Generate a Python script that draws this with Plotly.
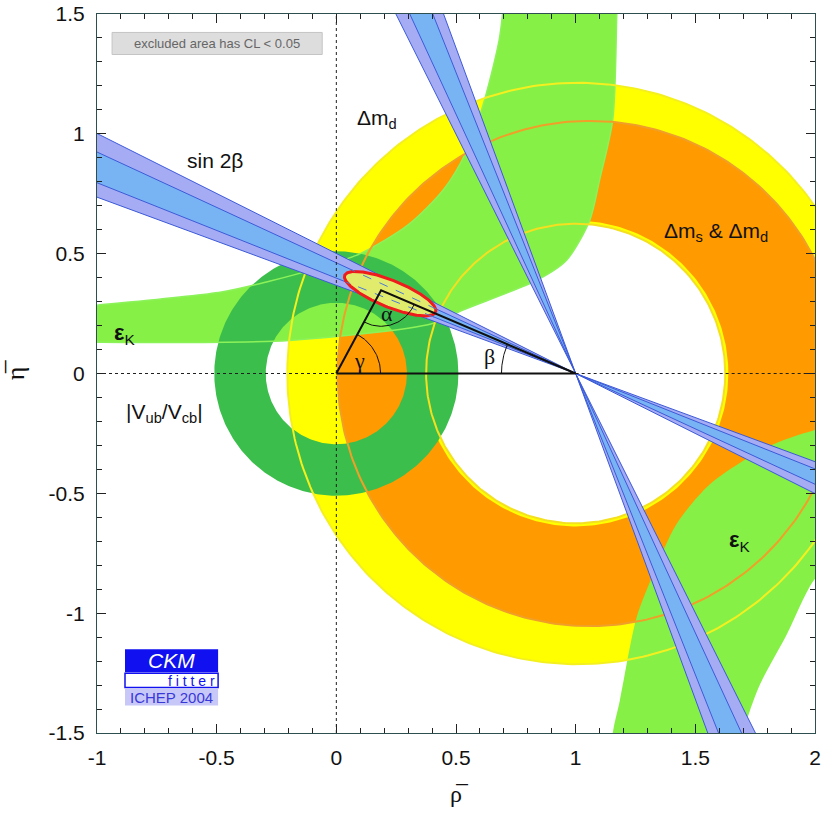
import numpy as np
import plotly.graph_objects as go

# ---------------- values ----------------
# Delta m_d band (yellow): outer / inner boundary circles (centre rho, radius)
dmd_centre = [1.008, 1.0]
dmd_radius = [1.213, 0.625]
# Delta m_s & Delta m_d band (orange)
dms_centre = [1.059, 1.0]
dms_radius = [1.054, 0.638]
# |Vub/Vcb| ring around the origin (outer, inner radius)
vub_radius = [0.51, 0.295]

# sin 2beta : angles (deg) of the band edges seen from (1,0)
beta_2sigma = [20.2, 26.6]
beta_1sigma = [21.7, 24.8]
beta_2sigma_alt = [63.4, 69.8]
beta_1sigma_alt = [65.2, 68.3]

# epsilon_K, upper branch: upper edge and lower edge
ek_up_hi_rho = [-1.10, -1.00, -0.48, -0.28, -0.06, 0.10, 0.30, 0.45, 0.54, 0.61, 0.68, 0.70, 0.72]
ek_up_hi_eta = [0.275, 0.285, 0.34, 0.385, 0.445, 0.50, 0.62, 0.77, 0.92, 1.11, 1.39, 1.55, 1.75]
ek_up_lo_rho = [1.18, 1.172, 1.155, 1.10, 1.059, 0.962, 0.837, 0.527, 0.402, -0.197, -1.00, -1.10]
ek_up_lo_eta = [1.75, 1.506, 1.059, 0.808, 0.640, 0.473, 0.389, 0.264, 0.209, 0.138, 0.130, 0.130]
# epsilon_K, lower branch: inner edge and outer edge
ek_lo_in_rho = [2.15, 1.993, 1.798, 1.561, 1.421, 1.324, 1.254, 1.184, 1.156, 1.14]
ek_lo_in_eta = [-0.21, -0.238, -0.308, -0.462, -0.629, -0.838, -1.020, -1.368, -1.494, -1.70]
ek_lo_out_rho = [1.66, 1.714, 1.770, 1.882, 1.993, 2.15]
ek_lo_out_eta = [-1.70, -1.452, -1.298, -1.089, -0.866, -0.70]

# global fit region (ellipse): centre, semi-axes, tilt (deg)
fit_centre = [0.225, 0.333]
fit_axes = [0.205, 0.056]
fit_tilt = [-22.0]

# unitarity triangle apex
apex = [0.187, 0.347]

x_tick_vals = [-1, -0.5, 0, 0.5, 1, 1.5, 2]
x_tick_text = ["-1", "-0.5", "0", "0.5", "1", "1.5", "2"]
y_tick_vals = [-1.5, -1, -0.5, 0, 0.5, 1, 1.5]
y_tick_text = ["-1.5", "-1", "-0.5", "0", "0.5", "1", "1.5"]

# ---------------- colours ----------------
YELLOW = "#ffff00"
ORANGE = "#ff9a00"
LGREEN = "#86f046"
DGREEN = "#3cbe4c"
BLUE2 = "#a6acf4"
BLUE1 = "#78b4f4"
BLUEL = "#3c5ad8"

T = np.linspace(0, 2 * np.pi, 361)


def ring(c_out, r_out, c_in, r_in):
    xo = c_out + r_out * np.cos(T)
    yo = r_out * np.sin(T)
    xi = c_in + r_in * np.cos(T[::-1])
    yi = r_in * np.sin(T[::-1])
    return list(xo) + [None] + list(xi), list(yo) + [None] + list(yi)


def circle(c, r):
    return list(c + r * np.cos(T)), list(r * np.sin(T))


def fill_trace(x, y, color, shape="linear"):
    return go.Scatter(x=x, y=y, mode="lines", fill="toself", fillcolor=color,
                      line=dict(width=0, shape=shape, smoothing=0.8),
                      hoverinfo="skip", showlegend=False)


def line_trace(x, y, color, width=1.0, dash="solid", shape="linear"):
    return go.Scatter(x=x, y=y, mode="lines",
                      line=dict(color=color, width=width, dash=dash, shape=shape, smoothing=0.8),
                      hoverinfo="skip", showlegend=False)


L = 5.0


def wedge(a1, a2):
    d1 = (np.cos(np.radians(a1)), np.sin(np.radians(a1)))
    d2 = (np.cos(np.radians(a2)), np.sin(np.radians(a2)))
    x = [1, 1 - L * d1[0], 1 - L * d2[0], 1, 1 + L * d2[0], 1 + L * d1[0], 1]
    y = [0, L * d1[1], L * d2[1], 0, -L * d2[1], -L * d1[1], 0]
    return x, y


def ray(a):
    d = (np.cos(np.radians(a)), np.sin(np.radians(a)))
    return [1 - L * d[0], 1 + L * d[0]], [L * d[1], -L * d[1]]


fig = go.Figure()

# Delta m_d (yellow) and Delta m_s & Delta m_d (orange)
fig.add_trace(fill_trace(*ring(dmd_centre[0], dmd_radius[0], dmd_centre[1], dmd_radius[1]), YELLOW))
fig.add_trace(fill_trace(*ring(dms_centre[0], dms_radius[0], dms_centre[1], dms_radius[1]), ORANGE))

# epsilon_K
fig.add_trace(fill_trace(ek_up_hi_rho + ek_up_lo_rho, ek_up_hi_eta + ek_up_lo_eta, LGREEN, "spline"))
fig.add_trace(fill_trace(ek_lo_in_rho + ek_lo_out_rho, ek_lo_in_eta + ek_lo_out_eta, LGREEN, "spline"))

# |Vub/Vcb|
fig.add_trace(fill_trace(*ring(0.0, vub_radius[0], 0.0, vub_radius[1]), DGREEN))

# contour lines over the green areas
fig.add_trace(line_trace(ek_up_hi_rho, ek_up_hi_eta, "#8cf25a", 1.5, shape="spline"))
fig.add_trace(line_trace(ek_up_lo_rho, ek_up_lo_eta, "#8cf25a", 1.5, shape="spline"))
fig.add_trace(line_trace(*circle(dmd_centre[0], dmd_radius[0]), "#f4f020", 2))
fig.add_trace(line_trace(*circle(dmd_centre[1], dmd_radius[1]), "#f4e020", 2))
fig.add_trace(line_trace(*circle(dms_centre[0], dms_radius[0]), "#f0a028", 2))

# sin 2beta
for a in (beta_2sigma, beta_2sigma_alt):
    fig.add_trace(fill_trace(*wedge(*a), BLUE2))
for a in (beta_1sigma, beta_1sigma_alt):
    fig.add_trace(fill_trace(*wedge(*a), BLUE1))
for a in beta_2sigma + beta_1sigma + beta_2sigma_alt + beta_1sigma_alt:
    fig.add_trace(line_trace(*ray(a), BLUEL, 1.0))

# global fit ellipse
tt = np.radians(fit_tilt[0])
ex = fit_axes[0] * np.cos(T)
ey = fit_axes[1] * np.sin(T)
fig.add_trace(go.Scatter(x=list(fit_centre[0] + ex * np.cos(tt) - ey * np.sin(tt)),
                         y=list(fit_centre[1] + ex * np.sin(tt) + ey * np.cos(tt)),
                         mode="lines", fill="toself", fillcolor="#e2ec6c",
                         line=dict(color="#ee1c1c", width=3), hoverinfo="skip", showlegend=False))
# sin2beta edges seen through the fit region (dashed)
for a in beta_1sigma:
    d = (np.cos(np.radians(a)), np.sin(np.radians(a)))
    fig.add_trace(line_trace([1 - 0.64 * d[0], 1 - 1.03 * d[0]], [0.64 * d[1], 1.03 * d[1]],
                             "#4a7ad8", 1, "dash"))

# dotted axes
fig.add_trace(line_trace([0, 0], [-1.5, 1.5], "#202020", 1, "dot"))
fig.add_trace(line_trace([-1, 0], [0, 0], "#202020", 1, "dot"))
fig.add_trace(line_trace([1, 2], [0, 0], "#202020", 1, "dot"))

# unitarity triangle
fig.add_trace(line_trace([0, apex[0], 1, 0], [0, apex[1], 0, 0], "#101010", 2))

g_ang = np.arctan2(apex[1], apex[0])
b_ang = np.arctan2(apex[1], 1 - apex[0])
tg = np.linspace(0, g_ang, 40)
fig.add_trace(line_trace(list(0.185 * np.cos(tg)), list(0.185 * np.sin(tg)), "#101010", 1))
tb = np.linspace(np.pi - b_ang, np.pi, 40)
fig.add_trace(line_trace(list(1 + 0.31 * np.cos(tb)), list(0.31 * np.sin(tb)), "#101010", 1))
ta = np.linspace(np.pi + g_ang, 2 * np.pi - b_ang, 40)
fig.add_trace(line_trace(list(apex[0] + 0.15 * np.cos(ta)), list(apex[1] + 0.15 * np.sin(ta)), "#101010", 1))

# ---------------- labels ----------------
SANS = "Liberation Sans, Arial, sans-serif"
SERIF = "Liberation Serif, Times New Roman, serif"
ann = [
    dict(x=0.17, y=1.06, text="Δm<sub>d</sub>", size=21, font=SANS),
    dict(x=-0.506, y=0.89, text="sin 2β", size=21, font=SANS),
    dict(x=1.586, y=0.59, text="Δm<sub>s</sub> & Δm<sub>d</sub>", size=21, font=SANS),
    dict(x=-0.885, y=0.165, text="<b>ε</b><sub>K</sub>", size=22, font=SANS),
    dict(x=1.686, y=-0.70, text="<b>ε</b><sub>K</sub>", size=22, font=SANS),
    dict(x=-0.72, y=-0.165, text="|V<sub>ub</sub>/V<sub>cb</sub>|", size=21, font=SANS),
    dict(x=0.213, y=0.25, text="α", size=22, font=SERIF),
    dict(x=0.096, y=0.055, text="γ", size=22, font=SERIF),
    dict(x=0.64, y=0.07, text="β", size=22, font=SERIF),
]
for a in ann:
    fig.add_annotation(x=a["x"], y=a["y"], xref="x", yref="y", text=a["text"], showarrow=False,
                       font=dict(family=a["font"], size=a["size"], color="#111111"))

# excluded-area box
fig.add_shape(type="rect", xref="x", yref="y", x0=-0.937, x1=-0.059, y0=1.331, y1=1.423,
              fillcolor="#dddddd", line=dict(color="#c4c4c4", width=1))
fig.add_annotation(x=-0.498, y=1.377, xref="x", yref="y", text="excluded area has CL < 0.05",
                   showarrow=False, font=dict(family=SANS, size=13, color="#666666"))

# CKMfitter logo
fig.add_shape(type="rect", xref="x", yref="y", x0=-0.883, x1=-0.494, y0=-1.247, y1=-1.151,
              fillcolor="#1010f0", line=dict(width=0))
fig.add_shape(type="rect", xref="x", yref="y", x0=-0.883, x1=-0.494, y0=-1.310, y1=-1.251,
              fillcolor="#ffffff", line=dict(color="#1010f0", width=1.5))
fig.add_shape(type="rect", xref="x", yref="y", x0=-0.883, x1=-0.494, y0=-1.385, y1=-1.314,
              fillcolor="#c8c8f8", line=dict(width=0))
fig.add_annotation(x=-0.69, y=-1.199, xref="x", yref="y", text="<i>CKM</i>", showarrow=False,
                   font=dict(family=SANS, size=21, color="#ffffff"))
fig.add_annotation(x=-0.605, y=-1.281, xref="x", yref="y", text="f i t t e r", showarrow=False,
                   font=dict(family=SANS, size=14, color="#1010f0"))
fig.add_annotation(x=-0.69, y=-1.350, xref="x", yref="y", text="ICHEP 2004", showarrow=False,
                   font=dict(family=SANS, size=15, color="#3838d8"))

axis_common = dict(showgrid=False, zeroline=False, showline=True, linecolor="#2d4f4f", linewidth=1,
                   mirror="ticks", ticks="inside", ticklen=9, tickwidth=1, tickcolor="#222222",
                   minor=dict(dtick=0.1, ticks="inside", ticklen=5, tickcolor="#222222", tickwidth=1),
                   tickfont=dict(family=SANS, size=21, color="#111111"), automargin=False,
                   ticklabeloverflow="allow")

fig.update_layout(
    width=821, height=815,
    margin=dict(l=97, r=6, t=14, b=82),
    paper_bgcolor="white", plot_bgcolor="white",
    showlegend=False,
    xaxis=dict(range=[-1, 2], tickvals=x_tick_vals, ticktext=x_tick_text, ticklabelstandoff=6,
               title=dict(text="ρ̅", font=dict(family=SERIF, size=24, color="#111111"), standoff=16),
               **axis_common),
    yaxis=dict(range=[-1.5, 1.5], tickvals=y_tick_vals, ticktext=y_tick_text, ticklabelstandoff=7,
               title=dict(text="η̅", font=dict(family=SERIF, size=26, color="#111111"), standoff=16),
               **axis_common),
)

# remove the browser's default page margin so the figure sits at the window's corner
fig.write_html("out.html", config={"displayModeBar": False},
               post_script="document.body.style.margin='0px';")
